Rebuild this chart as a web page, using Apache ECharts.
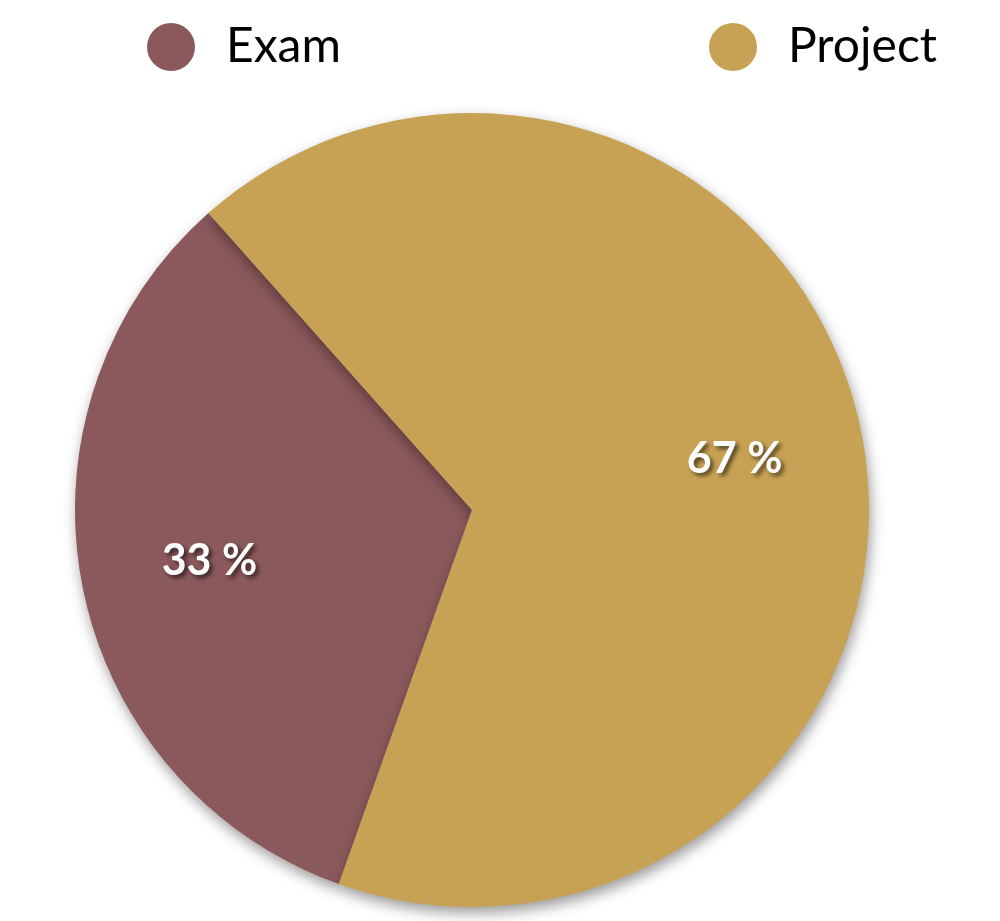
<!DOCTYPE html>
<html><head><meta charset="utf-8">
<script src="https://cdn.jsdelivr.net/npm/echarts@6/dist/echarts.min.js"></script>
<style>html,body{margin:0;padding:0;background:#fff}#c{width:1000px;height:921px}</style>
</head><body><div id="c"></div>
<script>
const categories = ['Exam', 'Project'];
const values = [33, 67];
const colors = ['#8b595b', '#c8a254'];

const chart = echarts.init(document.getElementById('c'));
const data = categories.map((n, i) => ({ name: n, value: values[i], itemStyle: { color: colors[i] } }));
const font = 'Lato, "Open Sans", sans-serif';
chart.setOption({
  animation: false,
  legend: [
    { data: ['Exam'], left: 142, top: 18, icon: 'circle', itemWidth: 48, itemHeight: 48,
      textStyle: { fontSize: 48, color: '#000', fontFamily: font, padding: [0, 0, 0, 26] }, selectedMode: false },
    { data: ['Project'], left: 704, top: 18, icon: 'circle', itemWidth: 48, itemHeight: 48,
      textStyle: { fontSize: 48, color: '#000', fontFamily: font, padding: [0, 0, 0, 26] }, selectedMode: false }
  ],
  series: [
    { type: 'pie', center: [472, 510], radius: 397, startAngle: 250.4, clockwise: true,
      data: data, label: { show: false }, labelLine: { show: false },
      itemStyle: { shadowColor: 'rgba(0,0,0,0.4)', shadowBlur: 14, shadowOffsetX: 2, shadowOffsetY: 6 },
      emphasis: { disabled: true } },
    { type: 'pie', center: [472, 510], radius: [132, 397], startAngle: 250.4, clockwise: true, silent: true,
      data: categories.map((n, i) => ({ name: n, value: values[i] })),
      itemStyle: { color: 'rgba(0,0,0,0)' },
      label: { show: true, position: 'inside', formatter: '{c} %', color: '#fff', fontSize: 43, fontWeight: 'bold',
        fontFamily: font, textShadowColor: 'rgba(0,0,0,0.6)', textShadowBlur: 4, textShadowOffsetX: 3, textShadowOffsetY: 3 },
      labelLine: { show: false }, emphasis: { disabled: true } }
  ]
});
</script></body></html>
